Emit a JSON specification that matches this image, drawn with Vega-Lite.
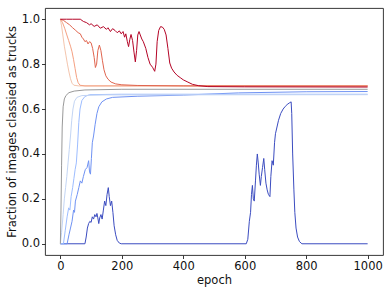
{
  "$schema": "https://vega.github.io/schema/vega-lite/v6.json",
  "width": 338,
  "height": 247,
  "autosize": "none",
  "padding": {"left": 45, "top": 8, "right": 8, "bottom": 37},
  "background": "white",
  "config": {
    "font": "DejaVu Sans",
    "view": {"stroke": "#222222", "strokeWidth": 0.9},
    "axis": {
      "grid": false,
      "domain": false,
      "tickColor": "#222222",
      "tickSize": 3.5,
      "tickWidth": 0.9,
      "labelFontSize": 11.5,
      "labelColor": "#111111",
      "labelFont": "DejaVu Sans",
      "titleFont": "DejaVu Sans",
      "titleFontSize": 11.5,
      "titleFontWeight": "normal",
      "titleColor": "#111111",
      "labelPadding": 2
    }
  },
  "datasets": {
    "runs": [
      {"run": "a", "epoch": 0, "value": 0}, {"run": "a", "epoch": 80, "value": 0}, {"run": "a", "epoch": 84, "value": 0.03}, {"run": "a", "epoch": 88, "value": 0.07}, {"run": "a", "epoch": 92, "value": 0.09}, {"run": "a", "epoch": 96, "value": 0.1}, {"run": "a", "epoch": 100, "value": 0.095}, {"run": "a", "epoch": 104, "value": 0.12}, {"run": "a", "epoch": 108, "value": 0.11}, {"run": "a", "epoch": 112, "value": 0.13}, {"run": "a", "epoch": 116, "value": 0.12}, {"run": "a", "epoch": 119, "value": 0.135}, {"run": "a", "epoch": 122, "value": 0.115}, {"run": "a", "epoch": 125, "value": 0.09}, {"run": "a", "epoch": 128, "value": 0.115}, {"run": "a", "epoch": 132, "value": 0.13}, {"run": "a", "epoch": 136, "value": 0.11}, {"run": "a", "epoch": 140, "value": 0.15}, {"run": "a", "epoch": 144, "value": 0.19}, {"run": "a", "epoch": 148, "value": 0.17}, {"run": "a", "epoch": 152, "value": 0.22}, {"run": "a", "epoch": 156, "value": 0.25}, {"run": "a", "epoch": 159, "value": 0.21}, {"run": "a", "epoch": 163, "value": 0.17}, {"run": "a", "epoch": 167, "value": 0.19}, {"run": "a", "epoch": 171, "value": 0.14}, {"run": "a", "epoch": 175, "value": 0.08}, {"run": "a", "epoch": 180, "value": 0.04}, {"run": "a", "epoch": 185, "value": 0.015}, {"run": "a", "epoch": 192, "value": 0.003}, {"run": "a", "epoch": 198, "value": 0}, {"run": "a", "epoch": 605, "value": 0}, {"run": "a", "epoch": 610, "value": 0.02}, {"run": "a", "epoch": 615, "value": 0.1}, {"run": "a", "epoch": 619, "value": 0.14}, {"run": "a", "epoch": 622, "value": 0.22}, {"run": "a", "epoch": 625, "value": 0.26}, {"run": "a", "epoch": 628, "value": 0.2}, {"run": "a", "epoch": 631, "value": 0.19}, {"run": "a", "epoch": 635, "value": 0.28}, {"run": "a", "epoch": 638, "value": 0.35}, {"run": "a", "epoch": 641, "value": 0.4}, {"run": "a", "epoch": 644, "value": 0.36}, {"run": "a", "epoch": 647, "value": 0.31}, {"run": "a", "epoch": 651, "value": 0.26}, {"run": "a", "epoch": 654, "value": 0.3}, {"run": "a", "epoch": 658, "value": 0.34}, {"run": "a", "epoch": 662, "value": 0.38}, {"run": "a", "epoch": 665, "value": 0.33}, {"run": "a", "epoch": 669, "value": 0.27}, {"run": "a", "epoch": 673, "value": 0.24}, {"run": "a", "epoch": 677, "value": 0.22}, {"run": "a", "epoch": 682, "value": 0.21}, {"run": "a", "epoch": 685, "value": 0.3}, {"run": "a", "epoch": 689, "value": 0.37}, {"run": "a", "epoch": 693, "value": 0.35}, {"run": "a", "epoch": 697, "value": 0.45}, {"run": "a", "epoch": 700, "value": 0.49}, {"run": "a", "epoch": 705, "value": 0.52}, {"run": "a", "epoch": 710, "value": 0.55}, {"run": "a", "epoch": 717, "value": 0.58}, {"run": "a", "epoch": 725, "value": 0.6}, {"run": "a", "epoch": 732, "value": 0.612}, {"run": "a", "epoch": 738, "value": 0.62}, {"run": "a", "epoch": 745, "value": 0.627}, {"run": "a", "epoch": 751, "value": 0.632}, {"run": "a", "epoch": 753, "value": 0.58}, {"run": "a", "epoch": 756, "value": 0.4}, {"run": "a", "epoch": 760, "value": 0.24}, {"run": "a", "epoch": 763, "value": 0.14}, {"run": "a", "epoch": 767, "value": 0.07}, {"run": "a", "epoch": 772, "value": 0.03}, {"run": "a", "epoch": 778, "value": 0.01}, {"run": "a", "epoch": 786, "value": 0}, {"run": "a", "epoch": 1000, "value": 0},

      {"run": "b", "epoch": 0, "value": 0}, {"run": "b", "epoch": 22, "value": 0}, {"run": "b", "epoch": 28, "value": 0.04}, {"run": "b", "epoch": 33, "value": 0.07}, {"run": "b", "epoch": 38, "value": 0.1}, {"run": "b", "epoch": 43, "value": 0.15}, {"run": "b", "epoch": 46, "value": 0.14}, {"run": "b", "epoch": 49, "value": 0.19}, {"run": "b", "epoch": 55, "value": 0.22}, {"run": "b", "epoch": 60, "value": 0.25}, {"run": "b", "epoch": 65, "value": 0.28}, {"run": "b", "epoch": 70, "value": 0.27}, {"run": "b", "epoch": 75, "value": 0.3}, {"run": "b", "epoch": 81, "value": 0.33}, {"run": "b", "epoch": 87, "value": 0.34}, {"run": "b", "epoch": 92, "value": 0.37}, {"run": "b", "epoch": 95, "value": 0.32}, {"run": "b", "epoch": 98, "value": 0.31}, {"run": "b", "epoch": 101, "value": 0.38}, {"run": "b", "epoch": 104, "value": 0.45}, {"run": "b", "epoch": 108, "value": 0.48}, {"run": "b", "epoch": 113, "value": 0.53}, {"run": "b", "epoch": 119, "value": 0.58}, {"run": "b", "epoch": 125, "value": 0.61}, {"run": "b", "epoch": 135, "value": 0.632}, {"run": "b", "epoch": 150, "value": 0.645}, {"run": "b", "epoch": 170, "value": 0.652}, {"run": "b", "epoch": 250, "value": 0.657}, {"run": "b", "epoch": 400, "value": 0.662}, {"run": "b", "epoch": 580, "value": 0.672}, {"run": "b", "epoch": 800, "value": 0.677}, {"run": "b", "epoch": 1000, "value": 0.678},

      {"run": "c", "epoch": 0, "value": 0}, {"run": "c", "epoch": 10, "value": 0}, {"run": "c", "epoch": 16, "value": 0.06}, {"run": "c", "epoch": 22, "value": 0.12}, {"run": "c", "epoch": 27, "value": 0.16}, {"run": "c", "epoch": 31, "value": 0.15}, {"run": "c", "epoch": 35, "value": 0.21}, {"run": "c", "epoch": 40, "value": 0.25}, {"run": "c", "epoch": 44, "value": 0.29}, {"run": "c", "epoch": 48, "value": 0.33}, {"run": "c", "epoch": 52, "value": 0.36}, {"run": "c", "epoch": 56, "value": 0.44}, {"run": "c", "epoch": 60, "value": 0.54}, {"run": "c", "epoch": 64, "value": 0.6}, {"run": "c", "epoch": 70, "value": 0.638}, {"run": "c", "epoch": 80, "value": 0.656}, {"run": "c", "epoch": 95, "value": 0.664}, {"run": "c", "epoch": 200, "value": 0.666}, {"run": "c", "epoch": 1000, "value": 0.666},

      {"run": "d", "epoch": 0, "value": 0}, {"run": "d", "epoch": 4, "value": 0.05}, {"run": "d", "epoch": 9, "value": 0.13}, {"run": "d", "epoch": 13, "value": 0.2}, {"run": "d", "epoch": 17, "value": 0.25}, {"run": "d", "epoch": 21, "value": 0.3}, {"run": "d", "epoch": 25, "value": 0.36}, {"run": "d", "epoch": 29, "value": 0.42}, {"run": "d", "epoch": 33, "value": 0.48}, {"run": "d", "epoch": 37, "value": 0.55}, {"run": "d", "epoch": 41, "value": 0.6}, {"run": "d", "epoch": 46, "value": 0.635}, {"run": "d", "epoch": 54, "value": 0.652}, {"run": "d", "epoch": 70, "value": 0.66}, {"run": "d", "epoch": 150, "value": 0.663}, {"run": "d", "epoch": 1000, "value": 0.664},

      {"run": "e", "epoch": 0, "value": 0}, {"run": "e", "epoch": 2, "value": 0.15}, {"run": "e", "epoch": 4, "value": 0.35}, {"run": "e", "epoch": 6, "value": 0.52}, {"run": "e", "epoch": 9, "value": 0.61}, {"run": "e", "epoch": 13, "value": 0.645}, {"run": "e", "epoch": 18, "value": 0.66}, {"run": "e", "epoch": 28, "value": 0.673}, {"run": "e", "epoch": 45, "value": 0.68}, {"run": "e", "epoch": 80, "value": 0.685}, {"run": "e", "epoch": 200, "value": 0.688}, {"run": "e", "epoch": 1000, "value": 0.688},

      {"run": "f", "epoch": 0, "value": 1}, {"run": "f", "epoch": 4, "value": 0.97}, {"run": "f", "epoch": 8, "value": 0.93}, {"run": "f", "epoch": 13, "value": 0.88}, {"run": "f", "epoch": 18, "value": 0.84}, {"run": "f", "epoch": 23, "value": 0.8}, {"run": "f", "epoch": 28, "value": 0.765}, {"run": "f", "epoch": 33, "value": 0.735}, {"run": "f", "epoch": 38, "value": 0.715}, {"run": "f", "epoch": 44, "value": 0.706}, {"run": "f", "epoch": 60, "value": 0.703}, {"run": "f", "epoch": 1000, "value": 0.704},

      {"run": "g", "epoch": 0, "value": 1}, {"run": "g", "epoch": 7, "value": 0.985}, {"run": "g", "epoch": 14, "value": 0.96}, {"run": "g", "epoch": 21, "value": 0.93}, {"run": "g", "epoch": 27, "value": 0.905}, {"run": "g", "epoch": 33, "value": 0.88}, {"run": "g", "epoch": 38, "value": 0.855}, {"run": "g", "epoch": 43, "value": 0.82}, {"run": "g", "epoch": 48, "value": 0.78}, {"run": "g", "epoch": 53, "value": 0.74}, {"run": "g", "epoch": 58, "value": 0.717}, {"run": "g", "epoch": 64, "value": 0.706}, {"run": "g", "epoch": 80, "value": 0.703}, {"run": "g", "epoch": 1000, "value": 0.704},

      {"run": "h", "epoch": 0, "value": 1}, {"run": "h", "epoch": 10, "value": 0.995}, {"run": "h", "epoch": 20, "value": 0.985}, {"run": "h", "epoch": 30, "value": 0.975}, {"run": "h", "epoch": 40, "value": 0.962}, {"run": "h", "epoch": 50, "value": 0.95}, {"run": "h", "epoch": 58, "value": 0.94}, {"run": "h", "epoch": 65, "value": 0.935}, {"run": "h", "epoch": 70, "value": 0.92}, {"run": "h", "epoch": 75, "value": 0.912}, {"run": "h", "epoch": 80, "value": 0.9}, {"run": "h", "epoch": 85, "value": 0.905}, {"run": "h", "epoch": 90, "value": 0.89}, {"run": "h", "epoch": 95, "value": 0.9}, {"run": "h", "epoch": 100, "value": 0.895}, {"run": "h", "epoch": 105, "value": 0.87}, {"run": "h", "epoch": 110, "value": 0.83}, {"run": "h", "epoch": 114, "value": 0.785}, {"run": "h", "epoch": 118, "value": 0.8}, {"run": "h", "epoch": 122, "value": 0.86}, {"run": "h", "epoch": 127, "value": 0.885}, {"run": "h", "epoch": 132, "value": 0.86}, {"run": "h", "epoch": 137, "value": 0.815}, {"run": "h", "epoch": 142, "value": 0.775}, {"run": "h", "epoch": 148, "value": 0.748}, {"run": "h", "epoch": 155, "value": 0.733}, {"run": "h", "epoch": 165, "value": 0.72}, {"run": "h", "epoch": 180, "value": 0.712}, {"run": "h", "epoch": 200, "value": 0.708}, {"run": "h", "epoch": 250, "value": 0.705}, {"run": "h", "epoch": 400, "value": 0.703}, {"run": "h", "epoch": 1000, "value": 0.702},

      {"run": "i", "epoch": 0, "value": 1}, {"run": "i", "epoch": 20, "value": 1}, {"run": "i", "epoch": 40, "value": 1}, {"run": "i", "epoch": 65, "value": 1}, {"run": "i", "epoch": 75, "value": 0.99}, {"run": "i", "epoch": 85, "value": 0.985}, {"run": "i", "epoch": 95, "value": 0.975}, {"run": "i", "epoch": 100, "value": 0.98}, {"run": "i", "epoch": 110, "value": 0.968}, {"run": "i", "epoch": 120, "value": 0.975}, {"run": "i", "epoch": 130, "value": 0.96}, {"run": "i", "epoch": 140, "value": 0.967}, {"run": "i", "epoch": 150, "value": 0.955}, {"run": "i", "epoch": 155, "value": 0.962}, {"run": "i", "epoch": 163, "value": 0.945}, {"run": "i", "epoch": 170, "value": 0.958}, {"run": "i", "epoch": 178, "value": 0.95}, {"run": "i", "epoch": 185, "value": 0.94}, {"run": "i", "epoch": 192, "value": 0.948}, {"run": "i", "epoch": 198, "value": 0.935}, {"run": "i", "epoch": 204, "value": 0.945}, {"run": "i", "epoch": 209, "value": 0.92}, {"run": "i", "epoch": 213, "value": 0.935}, {"run": "i", "epoch": 218, "value": 0.9}, {"run": "i", "epoch": 222, "value": 0.878}, {"run": "i", "epoch": 226, "value": 0.91}, {"run": "i", "epoch": 230, "value": 0.932}, {"run": "i", "epoch": 235, "value": 0.905}, {"run": "i", "epoch": 240, "value": 0.85}, {"run": "i", "epoch": 244, "value": 0.81}, {"run": "i", "epoch": 248, "value": 0.86}, {"run": "i", "epoch": 252, "value": 0.93}, {"run": "i", "epoch": 256, "value": 0.945}, {"run": "i", "epoch": 260, "value": 0.93}, {"run": "i", "epoch": 265, "value": 0.912}, {"run": "i", "epoch": 270, "value": 0.9}, {"run": "i", "epoch": 278, "value": 0.87}, {"run": "i", "epoch": 285, "value": 0.83}, {"run": "i", "epoch": 292, "value": 0.8}, {"run": "i", "epoch": 300, "value": 0.786}, {"run": "i", "epoch": 307, "value": 0.768}, {"run": "i", "epoch": 311, "value": 0.8}, {"run": "i", "epoch": 315, "value": 0.9}, {"run": "i", "epoch": 320, "value": 0.95}, {"run": "i", "epoch": 326, "value": 0.967}, {"run": "i", "epoch": 332, "value": 0.965}, {"run": "i", "epoch": 338, "value": 0.955}, {"run": "i", "epoch": 344, "value": 0.93}, {"run": "i", "epoch": 350, "value": 0.87}, {"run": "i", "epoch": 356, "value": 0.805}, {"run": "i", "epoch": 362, "value": 0.782}, {"run": "i", "epoch": 370, "value": 0.765}, {"run": "i", "epoch": 380, "value": 0.75}, {"run": "i", "epoch": 390, "value": 0.74}, {"run": "i", "epoch": 400, "value": 0.73}, {"run": "i", "epoch": 415, "value": 0.72}, {"run": "i", "epoch": 430, "value": 0.71}, {"run": "i", "epoch": 450, "value": 0.704}, {"run": "i", "epoch": 480, "value": 0.7}, {"run": "i", "epoch": 600, "value": 0.699}, {"run": "i", "epoch": 1000, "value": 0.698}
    ]
  },
  "data": {"name": "runs"},
  "mark": {"type": "line", "strokeWidth": 1, "clip": true},
  "encoding": {
    "x": {
      "field": "epoch",
      "type": "quantitative",
      "scale": {"domain": [-50, 1050], "nice": false, "zero": false},
      "axis": {"values": [0, 200, 400, 600, 800, 1000], "format": "d", "title": "epoch", "titlePadding": 2}
    },
    "y": {
      "field": "value",
      "type": "quantitative",
      "scale": {"domain": [-0.05, 1.05], "nice": false, "zero": false},
      "axis": {"values": [0, 0.2, 0.4, 0.6, 0.8, 1.0], "format": ".1f", "title": "Fraction of images classied as trucks", "titlePadding": 4}
    },
    "color": {
      "field": "run",
      "type": "nominal",
      "scale": {
        "domain": ["a", "b", "c", "d", "e", "f", "g", "h", "i"],
        "range": ["#3b4cc0", "#6f92f3", "#9dbdff", "#c3d5f4", "#999999", "#f4c5ad", "#f5a081", "#e0654f", "#b40426"]
      },
      "legend": null
    }
  }
}
